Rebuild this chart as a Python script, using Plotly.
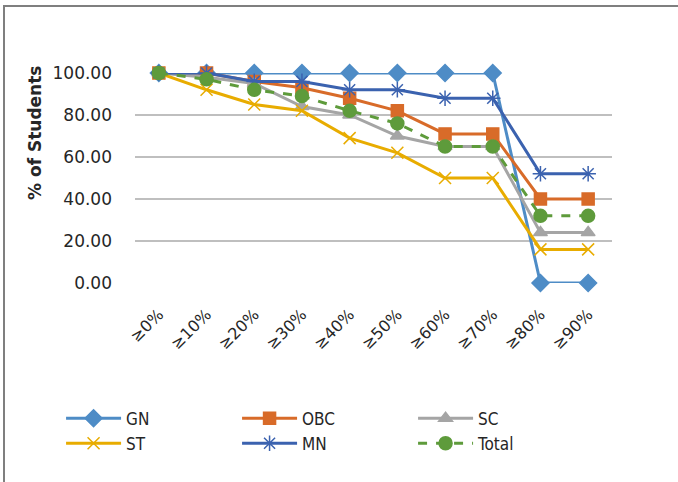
import plotly.graph_objects as go

categories = ["≥0%", "≥10%", "≥20%", "≥30%", "≥40%", "≥50%", "≥60%", "≥70%", "≥80%", "≥90%"]
gn = [100, 100, 100, 100, 100, 100, 100, 100, 0, 0]
obc = [100, 100, 96, 93, 88, 82, 71, 71, 40, 40]
sc = [100, 98, 95, 84, 80, 70, 65, 65, 24, 24]
st = [100, 92, 85, 82, 69, 62, 50, 50, 16, 16]
mn = [100, 100, 96, 96, 92, 92, 88, 88, 52, 52]
total = [100, 97, 92, 89, 82, 76, 65, 65, 32, 32]
y_ticks = [0, 20, 40, 60, 80, 100]

series = [
    ("GN", gn, "#4E8CC6", "diamond", "solid", 13),
    ("OBC", obc, "#D86B29", "square", "solid", 12),
    ("SC", sc, "#A5A5A5", "triangle-up", "solid", 12),
    ("ST", st, "#E8AC00", "x-thin-open", "solid", 12),
    ("MN", mn, "#3B62AF", "asterisk-open", "solid", 13),
    ("Total", total, "#5E9B3B", "circle", "dash", 13),
]

fig = go.Figure()
for name, vals, color, sym, dash, size in series:
    fig.add_trace(go.Scatter(
        x=categories, y=vals, name=name, mode="lines+markers",
        line=dict(color=color, width=3, dash=dash),
        marker=dict(symbol=sym, size=size, color=color,
                    line=dict(color=color, width=1.5)),
        cliponaxis=False,
    ))

fig.update_layout(
    width=678, height=482,
    margin=dict(l=135, r=66, t=73, b=199),
    paper_bgcolor="white", plot_bgcolor="white",
    font=dict(family="DejaVu Sans", color="#262626"),
    showlegend=True,
    legend=dict(orientation="h", x=-0.155, xanchor="left", y=-0.56, yanchor="top",
                itemwidth=55, entrywidth=106, entrywidthmode="pixels",
                font=dict(size=17, color="#262626", family="DejaVu Sans Condensed"),
                traceorder="normal", tracegroupgap=0),
    xaxis=dict(type="category", range=[-0.5, 9.5], showgrid=False, showline=False, ticks="",
               tickangle=-45, ticklabelstandoff=18,
               tickfont=dict(size=16, color="#262626")),
    yaxis=dict(range=[0, 100], tickvals=y_ticks, tickformat=".2f",
               showgrid=True, gridcolor="#BFBFBF", gridwidth=1.5,
               zeroline=False, showline=False, ticks="", ticklabelstandoff=22,
               tickfont=dict(size=17, color="#262626")),
    annotations=[
        dict(text="<b>% of Students</b>", xref="paper", yref="paper",
             x=(35 - 135) / 477, y=(283 - 133) / 210, textangle=-90,
             showarrow=False, font=dict(size=17, color="#262626"),
             xanchor="center", yanchor="middle"),
    ],
    shapes=[
        dict(type="rect", xref="paper", yref="paper", layer="above",
             x0=(4 - 135) / 477, x1=(720 - 135) / 477,
             y0=(283 - 520) / 210, y1=(283 - 6) / 210,
             fillcolor="rgba(0,0,0,0)",
             line=dict(color="#7F7F7F", width=2)),
    ],
)

fig.write_html("out.html", config={"displayModeBar": False},
               post_script="document.body.style.margin='0';")
